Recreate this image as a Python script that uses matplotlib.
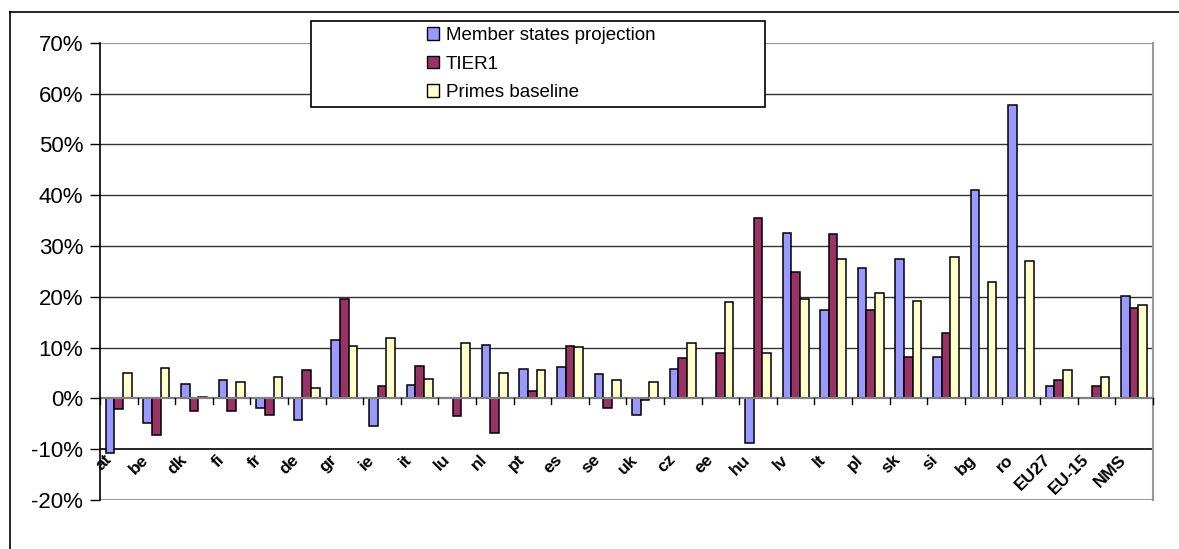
import numpy as np
import matplotlib
matplotlib.use("Agg")
import matplotlib.pyplot as plt
from matplotlib.patches import Rectangle, Patch
from matplotlib.lines import Line2D
from matplotlib.transforms import offset_copy

plt.rcParams['font.family'] = ['Liberation Sans', 'DejaVu Sans']

# Countries and aggregates
categories = ['at', 'be', 'dk', 'fi', 'fr', 'de', 'gr', 'ie', 'it', 'lu', 'nl', 'pt',
              'es', 'se', 'uk', 'cz', 'ee', 'hu', 'lv', 'lt', 'pl', 'sk', 'si', 'bg',
              'ro', 'EU27', 'EU-15', 'NMS']

# Change in percent (nan = no value)
member_states = [-10.8, -4.8, 2.9, 3.7, -1.9, -4.3, 11.5, -5.4, 2.6, np.nan, 10.6, 5.8,
                 6.1, 4.7, -3.2, 5.8, np.nan, -8.8, 32.5, 17.4, 25.6, 27.5, 8.2, 41.1,
                 57.7, 2.4, np.nan, 20.2]
tier1 = [-2.1, -7.2, -2.4, -2.4, -3.2, 5.6, 19.6, 2.4, 6.4, -3.5, -6.9, 1.5,
         10.4, -1.9, -0.4, 8.0, 8.9, 35.5, 24.8, 32.3, 17.4, 8.2, 12.8, np.nan,
         np.nan, 3.7, 2.4, 17.8]
primes = [5.0, 5.9, 0.3, 3.2, 4.2, 2.1, 10.4, 11.9, 3.9, 10.9, 5.0, 5.6,
          10.1, 3.7, 3.2, 10.9, 19.0, 9.0, 19.5, 27.5, 20.8, 19.2, 27.8, 22.9,
          27.1, 5.6, 4.2, 18.4]

series_names = ['Member states projection', 'TIER1', 'Primes baseline']
series_colors = ['#9999FF', '#993366', '#FFFFCC']
y_ticks = list(range(-20, 71, 10))

W, H = 1179, 549
fig = plt.figure(figsize=(W / 100, H / 100), dpi=100)
fig.patch.set_facecolor('white')

# outer chart frame (top and left edges)
fig.add_artist(Line2D([10 / W, 10 / W], [0, 1 - 12 / H], color='black', lw=1.2,
                      transform=fig.transFigure))
fig.add_artist(Line2D([10 / W, 1], [1 - 12 / H, 1 - 12 / H], color='black', lw=1.2,
                      transform=fig.transFigure))

left, right, top, bottom = 100, 1152.7, 42.7, 500
ax = fig.add_axes([left / W, 1 - bottom / H, (right - left) / W, (bottom - top) / H])

x = np.arange(len(categories))
bw = 0.23
for k, (vals, col) in enumerate(zip([member_states, tier1, primes], series_colors)):
    v = np.array(vals, dtype=float)
    m = ~np.isnan(v)
    ax.bar(x[m] + (k - 1) * bw, v[m], width=bw, color=col, edgecolor='black',
           linewidth=1.1, zorder=3)

ax.set_xlim(-0.5, len(categories) - 0.5)
ax.set_ylim(-20, 70)
ax.set_yticks(y_ticks)
ax.set_yticklabels([f'{t}%' for t in y_ticks], fontsize=16)
ax.tick_params(axis='y', direction='out', length=7, width=1, color='black', pad=5)
ax.set_xticks([])

# gridlines
for t in y_ticks:
    if t in (-20, 70):
        ax.axhline(t, color='#999999', lw=1.5, zorder=1)
    elif t == 0:
        continue
    elif t == -10:
        ax.axhline(t, color='black', lw=1.2, zorder=1)
    else:
        ax.axhline(t, color='#333333', lw=1.0, zorder=1)

# category axis at zero with boundary ticks
ax.axhline(0, color='#808080', lw=1.6, zorder=4)
for b in np.arange(-0.5, len(categories), 1.0):
    ax.plot([b, b], [0, -1.1], color='black', lw=1, zorder=4, clip_on=False)

for s in ['top', 'bottom']:
    ax.spines[s].set_visible(False)
ax.spines['right'].set_color('#999999')
ax.spines['right'].set_linewidth(1.5)
ax.spines['left'].set_color('black')
ax.spines['left'].set_linewidth(1.2)
ax.spines['left'].set_zorder(5)

# rotated category labels below the -10% line
lab_tr = offset_copy(ax.transData, fig=fig, x=-10, y=-8, units='dots')
for i, c in enumerate(categories):
    ax.text(i, -10, c, transform=lab_tr, rotation=45, rotation_mode='anchor',
            ha='right', va='center', fontsize=12.5, fontweight='bold', zorder=6)

# legend box
fig.add_artist(Rectangle((311 / W, 1 - 107 / H), (765 - 311) / W, (107 - 21) / H,
                         transform=fig.transFigure, facecolor='white',
                         edgecolor='black', lw=1.2, zorder=10))
handles = [Patch(facecolor=c, edgecolor='black', linewidth=1.0) for c in series_colors]
leg = fig.legend(handles, series_names, loc='upper left',
                 bbox_to_anchor=(427 / W, 1 - 27 / H), frameon=False, fontsize=13.5,
                 handlelength=0.65, handleheight=0.65, handletextpad=0.35,
                 labelspacing=0.62, borderpad=0, borderaxespad=0)
leg.set_zorder(11)

fig.savefig('out.png', dpi=100)
